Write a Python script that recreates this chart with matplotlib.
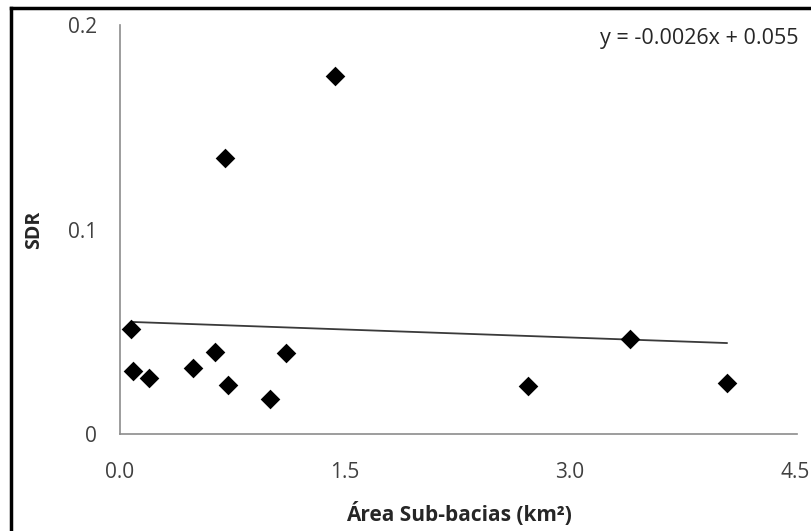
import matplotlib
matplotlib.use("Agg")
import matplotlib.pyplot as plt
from matplotlib.lines import Line2D

area_km2 = [0.073, 0.089, 0.193, 0.485, 0.631, 0.700, 0.720, 1.002, 1.109, 1.433, 2.718, 3.398, 4.047]
sdr = [0.0513, 0.0309, 0.0273, 0.0324, 0.0399, 0.1351, 0.0242, 0.0173, 0.0396, 0.1751, 0.0237, 0.0464, 0.0250]
trend_slope = -0.0026
trend_intercept = 0.055
x_ticks = [0.0, 1.5, 3.0, 4.5]
x_tick_labels = ["0.0", "1.5", "3.0", "4.5"]
y_ticks = [0.0, 0.1, 0.2]
y_tick_labels = ["0", "0.1", "0.2"]

plt.rcParams['font.family'] = ['Open Sans', 'DejaVu Sans']

W, H = 811, 531
fig = plt.figure(figsize=(W / 100, H / 100), dpi=100)
ax = fig.add_axes([120 / W, (H - 434) / H, (797 - 120) / W, (434 - 25) / H])

ax.scatter(area_km2, sdr, marker='D', s=10 ** 2, color='black', zorder=3, linewidths=0)
x0, x1 = min(area_km2), max(area_km2)
ax.plot([x0, x1], [trend_slope * x0 + trend_intercept, trend_slope * x1 + trend_intercept],
        color='#3a3a3a', lw=1.3, zorder=2)

ax.set_xlim(0, 4.515)
ax.set_ylim(0, 0.2)
ax.set_xticks(x_ticks)
ax.set_xticklabels(x_tick_labels)
ax.set_yticks(y_ticks)
ax.set_yticklabels(y_tick_labels)
ax.tick_params(length=0, labelsize=15, colors='#404040', pad=0)
ax.tick_params(axis='x', pad=20)
ax.tick_params(axis='y', pad=16.5)
for s in ['top', 'right']:
    ax.spines[s].set_visible(False)
for s in ['left', 'bottom']:
    ax.spines[s].set_color('#8c8c8c')
    ax.spines[s].set_linewidth(1.2)

ax.set_xlabel('Área Sub-bacias (km²)', fontsize=15, fontweight='bold', color='#262626', labelpad=14)
ax.set_ylabel('SDR', fontsize=14, fontweight='bold', color='#262626', labelpad=17)

ax.text(1.0015, 0.968, 'y = -0.0026x + 0.055', transform=ax.transAxes, ha='right', va='center',
        fontsize=15.5, color='#262626')

fig.add_artist(Line2D([11 / W, 11 / W], [0, 1 - 8 / H], color='black', lw=2.5, transform=fig.transFigure))
fig.add_artist(Line2D([11 / W, 1], [1 - 8 / H, 1 - 8 / H], color='black', lw=2.5, transform=fig.transFigure))

fig.savefig('out.png', dpi=100)
